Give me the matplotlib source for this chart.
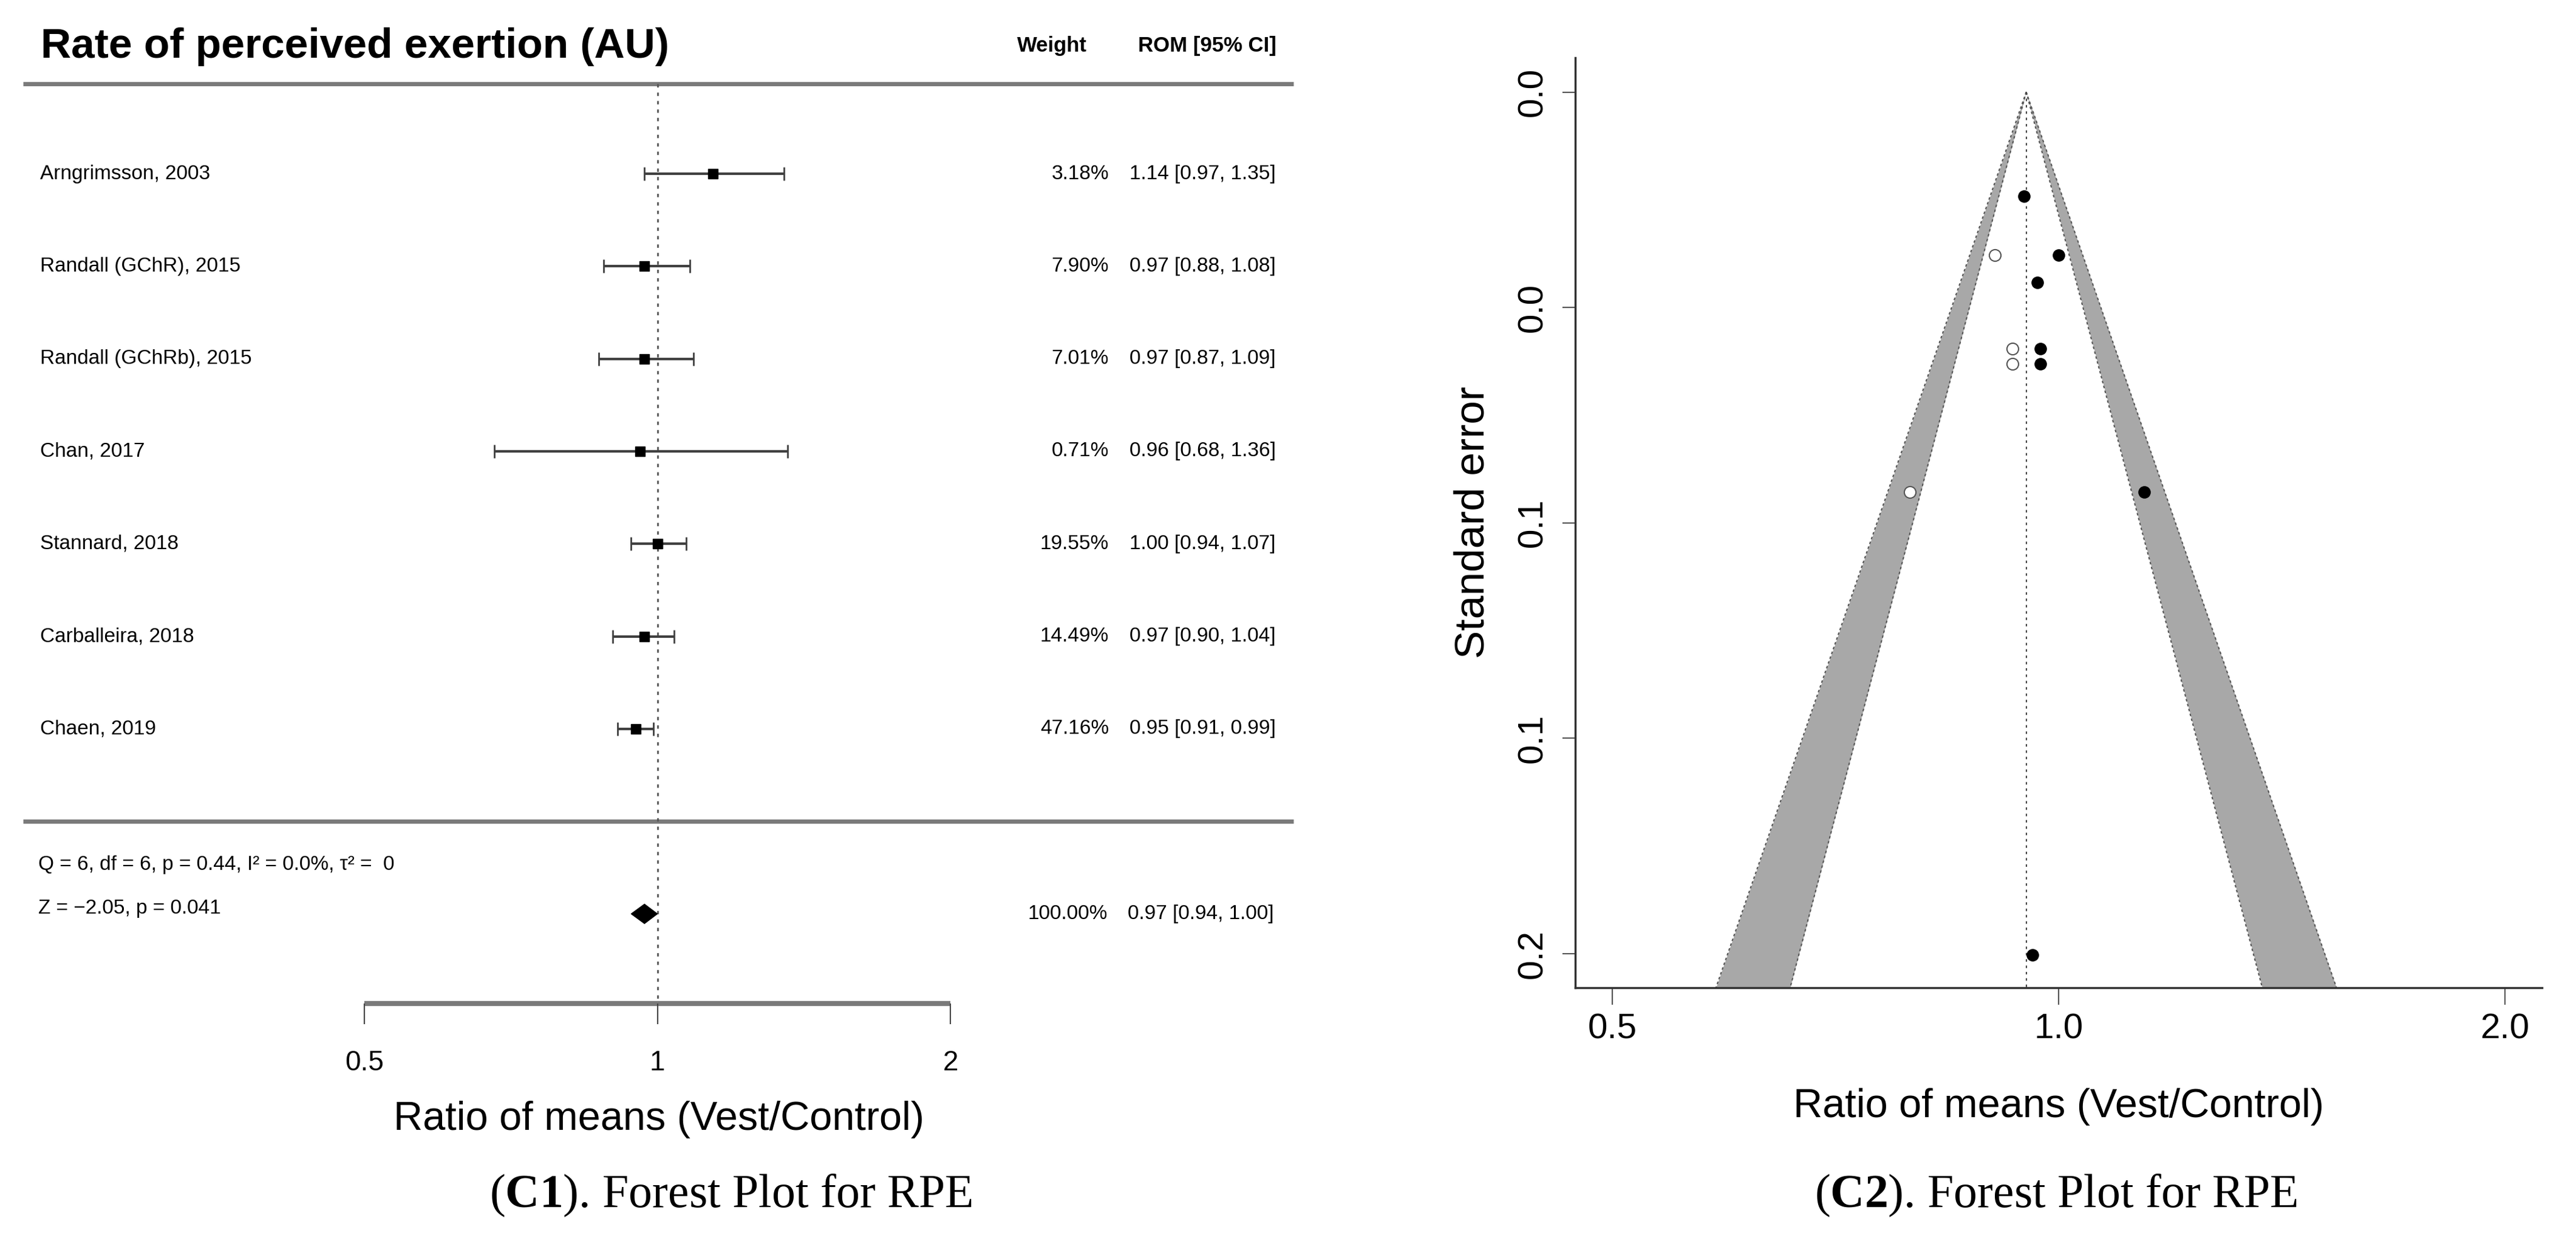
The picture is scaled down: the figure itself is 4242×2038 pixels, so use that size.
import matplotlib
matplotlib.use("Agg")
import matplotlib.pyplot as plt
import numpy as np
from matplotlib.patches import Polygon
from matplotlib.ticker import NullLocator

plt.rcParams['font.family'] = ['Liberation Sans', 'DejaVu Sans']
plt.rcParams['mathtext.fontset'] = 'custom'
plt.rcParams['mathtext.rm'] = 'Liberation Serif'
plt.rcParams['mathtext.bf'] = 'Liberation Serif:bold'

# ---- forest plot data (C1) ----
studies = ["Arngrimsson, 2003", "Randall (GChR), 2015", "Randall (GChRb), 2015",
           "Chan, 2017", "Stannard, 2018", "Carballeira, 2018", "Chaen, 2019"]
rom = [1.14, 0.97, 0.97, 0.96, 1.00, 0.97, 0.95]
ci_low = [0.97, 0.88, 0.87, 0.68, 0.94, 0.90, 0.91]
ci_high = [1.35, 1.08, 1.09, 1.36, 1.07, 1.04, 0.99]
weights = [3.18, 7.90, 7.01, 0.71, 19.55, 14.49, 47.16]
pooled = [0.97, 0.94, 1.00]   # estimate, lower, upper
het_text = "Q = 6, df = 6, p = 0.44, I² = 0.0%, τ² =  0"
z_text = "Z = −2.05, p = 0.041"
forest_ticks = [0.5, 1, 2]

# ---- funnel plot data (C2) ----
obs_rom = [0.948, 1.00, 0.968, 0.972, 0.972, 1.142, 0.960]
obs_se = [0.0218, 0.0341, 0.0398, 0.0536, 0.0568, 0.0836, 0.1802]
fill_rom = [0.906, 0.931, 0.931, 0.794]
fill_se = [0.0341, 0.0536, 0.0568, 0.0836]
funnel_center = 0.951
se_ticks = [0, 0.045, 0.09, 0.135, 0.18]
se_labels = ["0.0", "0.0", "0.1", "0.1", "0.2"]
rom_ticks = [0.5, 1.0, 2.0]
rom_labels = ["0.5", "1.0", "2.0"]

W, H = 4242, 2038
fig = plt.figure(figsize=(W / 100, H / 100), dpi=100)

# left panel: one axes over the whole panel, y in row units
panel_w = 2150
ax1 = fig.add_axes([0, 0, panel_w / W, 1])
ax1.set_xscale('log')
ax1.set_xlim(0.5 * 2 ** (-600 / 482.5), 0.5 * 2 ** ((panel_w - 600) / 482.5))
row_px, row0 = 152.3, 286
ax1.set_ylim((H - row0) / row_px, -row0 / row_px)
ax1.axis('off')
tr = ax1.get_yaxis_transform()


def fx(p):
    return p / panel_w


ax1.text(fx(67), -1.372, "Rate of perceived exertion (AU)", transform=tr,
         fontsize=50, weight='bold', ha='left', va='center')
ax1.text(fx(1732), -1.379, "Weight", transform=tr, fontsize=25, weight='bold',
         ha='center', va='center')
ax1.text(fx(2102), -1.379, "ROM [95% CI]", transform=tr, fontsize=25, weight='bold',
         ha='right', va='center')
ax1.plot([fx(38), fx(2130)], [-0.97, -0.97], transform=tr, color='#7a7a7a', lw=5,
         solid_capstyle='butt')
ax1.plot([fx(38), fx(2130)], [7.0, 7.0], transform=tr, color='#7a7a7a', lw=5,
         solid_capstyle='butt')

# reference line at 1
ax1.plot([1, 1], [-0.97, 8.97], color='#555555', ls=(0, (2, 3)), lw=2)

rows = np.arange(len(studies))
est = np.array(rom)
ax1.errorbar(est, rows, xerr=[est - np.array(ci_low), np.array(ci_high) - est],
             fmt='s', color='black', ms=12, ecolor='#404040', elinewidth=3,
             capsize=8, capthick=2, zorder=3)
for i, name in enumerate(studies):
    ax1.text(fx(66), i, name, transform=tr, fontsize=24, ha='left', va='center')
    ax1.text(fx(1826), i, f"{weights[i]:.2f}%", transform=tr, fontsize=24,
             ha='right', va='center')
    ax1.text(fx(2101), i, f"{rom[i]:.2f} [{ci_low[i]:.2f}, {ci_high[i]:.2f}]",
             transform=tr, fontsize=24, ha='right', va='center')

# pooled estimate
srow = 8
diamond = Polygon([(pooled[1], srow), (pooled[0], srow - 0.105),
                   (pooled[2], srow), (pooled[0], srow + 0.105)],
                  closed=True, color='black', zorder=3)
ax1.add_patch(diamond)
ax1.text(fx(63), 7.466, het_text, transform=tr, fontsize=24, ha='left', va='center')
ax1.text(fx(63), 7.94, z_text, transform=tr, fontsize=24, ha='left', va='center')
ax1.text(fx(1824), srow, f"{sum(weights):.2f}%", transform=tr, fontsize=24,
         ha='right', va='center')
ax1.text(fx(2098), srow, f"{pooled[0]:.2f} [{pooled[1]:.2f}, {pooled[2]:.2f}]",
         transform=tr, fontsize=24, ha='right', va='center')

# x axis of the forest plot
ax1.plot([forest_ticks[0], forest_ticks[-1]], [8.97, 8.97], color='#7a7a7a', lw=6,
         solid_capstyle='butt')
ax1.vlines(forest_ticks, 8.97, 9.19, color='#444444', lw=1.5)
for t in forest_ticks:
    ax1.text(t, 9.61, f"{t:g}", fontsize=33, ha='center', va='center')
ax1.text(fx(1085), 10.22, "Ratio of means (Vest/Control)", transform=tr,
         fontsize=48, ha='center', va='center')

# right panel: funnel plot
ax2 = fig.add_axes([2594 / W, 1 - 1626 / H, (4186 - 2594) / W, (1626 - 95) / H])
ax2.set_xscale('log')
ax2.set_xlim(0.472, 2.119)
se_max = 0.1871
ax2.set_ylim(se_max, -0.00717)

se_line = np.array([0, se_max])
for sign in (-1, 1):
    inner = funnel_center * np.exp(sign * 1.96 * se_line)
    outer = funnel_center * np.exp(sign * 2.576 * se_line)
    ax2.fill_betweenx(se_line, inner, outer, color='#a8a8a8', lw=0)
    ax2.plot(inner, se_line, ls=(0, (2, 2)), color='#555555', lw=1.5)
    ax2.plot(outer, se_line, ls=(0, (2, 2)), color='#555555', lw=1.5)
ax2.plot([funnel_center, funnel_center], [0, se_max], ls=(0, (2, 3)),
         color='#444444', lw=1.5)

ax2.scatter(obs_rom, obs_se, s=190, color='black', zorder=3)
ax2.scatter(fill_rom, fill_se, s=190, facecolor='white', edgecolor='#555555',
            linewidth=1.5, zorder=3)

for side in ('top', 'right'):
    ax2.spines[side].set_visible(False)
for side in ('left', 'bottom'):
    ax2.spines[side].set_color('#333333')
    ax2.spines[side].set_linewidth(2.5)
ax2.xaxis.set_minor_locator(NullLocator())
ax2.set_xticks(rom_ticks, rom_labels)
ax2.set_yticks(se_ticks, se_labels, rotation=90, va='center')
ax2.tick_params(axis='x', length=20, width=1.5, color='#555555', pad=10, labelsize=42)
ax2.tick_params(axis='y', length=15, width=1.5, color='#555555', pad=16, labelsize=42)

fig.text(2425 / W, 1 - 860 / H, "Standard error", rotation=90, ha='center',
         va='center', fontsize=50)
fig.text(3390 / W, 1 - 1822 / H, "Ratio of means (Vest/Control)", ha='center',
         va='center', fontsize=48)

# captions
fig.text(1203 / W, 1 - 1968 / H, r"($\mathbf{C1}$). Forest Plot for RPE",
         family='Liberation Serif', fontsize=56, ha='center', va='center')
fig.text(3385 / W, 1 - 1968 / H, r"($\mathbf{C2}$). Forest Plot for RPE",
         family='Liberation Serif', fontsize=56, ha='center', va='center')

fig.savefig('out.png', dpi=100)
